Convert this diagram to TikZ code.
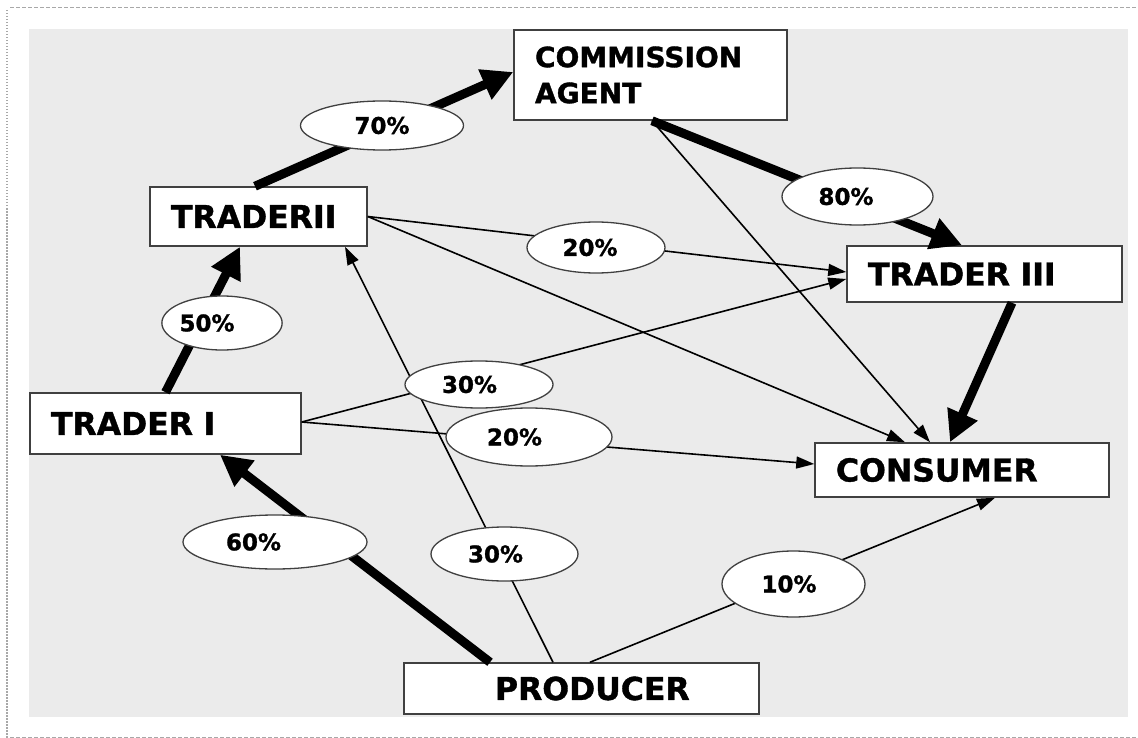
\documentclass[tikz,border=0pt]{standalone}
\usepackage{fontspec}
\setmainfont{DejaVu Sans}[BoldFeatures={FakeBold=1.2}]
\usetikzlibrary{arrows.meta,shapes.geometric}
\definecolor{bggray}{HTML}{EBEBEB}
\definecolor{framegray}{HTML}{A8A8A8}
\definecolor{boxline}{HTML}{404040}
\begin{document}
\begin{tikzpicture}[x=1pt,y=-1pt,
  box/.style={draw=boxline, line width=1.5pt, fill=white, rectangle, align=left,
    inner xsep=21pt, inner ysep=0pt, font=\bfseries\fontsize{31.5}{38}\selectfont},
  pct/.style={draw=boxline, line width=1.3pt, fill=white, ellipse, inner sep=0pt,
    font=\bfseries\fontsize{23}{28}\selectfont},
  heavy/.style={line width=9pt, -{Triangle[length=31pt,width=31pt]}},
  light/.style={line width=1.6pt, -{Triangle[length=18pt,width=12pt]}},
  framedash/.style={draw=framegray, line width=1pt, dash pattern=on 4pt off 2pt},
  framedot/.style={draw=framegray, line width=2pt, dash pattern=on 1.5pt off 1.5pt}
]
\useasboundingbox (0,0) rectangle (1138,738);
% frame and background
\draw[framedash] (10,8) -- (1138,8);
\draw[framedash] (10,737) -- (1138,737);
\draw[framedot] (7,10) -- (7,738);
\fill[bggray] (29,29) rectangle (1128,717);

% boxes
\node[box, text width=231pt, minimum height=90pt,
  font=\bfseries\fontsize{28}{36}\selectfont] (ca) at (650.5,75) {COMMISSION\\AGENT};
\node[box, text width=175pt, minimum height=59pt] (t2) at (258.5,216.5) {TRADERII};
\node[box, text width=233pt, minimum height=56pt] (t3) at (984.5,274) {TRADER III};
\node[box, text width=252pt, minimum height=54pt] (cons) at (962,470) {CONSUMER};
\node[box, text width=229pt, minimum height=61pt] (t1) at (165.5,423.5) {TRADER I};
\node[box, text width=313pt, minimum height=51pt] (prod) at (581.5,688.5) {\hspace*{70pt}PRODUCER};

% connectors
\draw[heavy] ([xshift=-91.5pt]prod.north) -- ([xshift=54.5pt]t1.south);
\draw[heavy] (t1.north) -- ([xshift=-18.5pt]t2.south);
\draw[heavy] ([xshift=-3.5pt]t2.north) -- ([yshift=3pt]ca.west);
\draw[heavy] ([xshift=1.5pt]ca.south) -- ([xshift=-22.5pt]t3.north);
\draw[heavy] ([xshift=27.5pt]t3.south) -- ([xshift=-12pt]cons.north);
\draw[light] ([xshift=1.5pt]ca.south) -- ([xshift=-32pt]cons.north);
\draw[light] (t2.east) -- ([yshift=2pt]t3.west);
\draw[light] (t2.east) -- ([xshift=-57pt]cons.north);
\draw[light] ([yshift=1.5pt]t1.east) -- ([yshift=-5pt]t3.west);
\draw[light] ([yshift=1.5pt]t1.east) -- ([yshift=6pt]cons.west);
\draw[light] ([xshift=-28.5pt]prod.north) -- ([xshift=86.5pt]t2.south);
\draw[light] ([xshift=8.5pt]prod.north) -- ([xshift=33pt]cons.south);

% percentage labels
\node[pct, minimum width=163pt, minimum height=49pt] (e70) at (382,125.5) {\raisebox{-3pt}{70\%}};
\node[pct, minimum width=151pt, minimum height=57pt] (e80) at (857.5,196.5) {80\%\hspace*{23pt}};
\node[pct, minimum width=138pt, minimum height=51pt] (e20a) at (596,247.5) {20\%\hspace*{12pt}};
\node[pct, minimum width=116pt, minimum height=54pt] (e50) at (222,323) {50\%\hspace*{30pt}};
\node[pct, minimum width=148pt, minimum height=47pt] (e30a) at (479,384.5) {30\%\hspace*{19pt}};
\node[pct, minimum width=166pt, minimum height=58pt] (e20b) at (529,437) {20\%\hspace*{29pt}};
\node[pct, minimum width=184pt, minimum height=54pt] (e60) at (275,542) {60\%\hspace*{43pt}};
\node[pct, minimum width=147pt, minimum height=54pt] (e30b) at (504.5,554) {30\%\hspace*{18pt}};
\node[pct, minimum width=143pt, minimum height=66pt] (e10) at (793.5,584) {10\%\hspace*{9pt}};
\end{tikzpicture}
\end{document}
